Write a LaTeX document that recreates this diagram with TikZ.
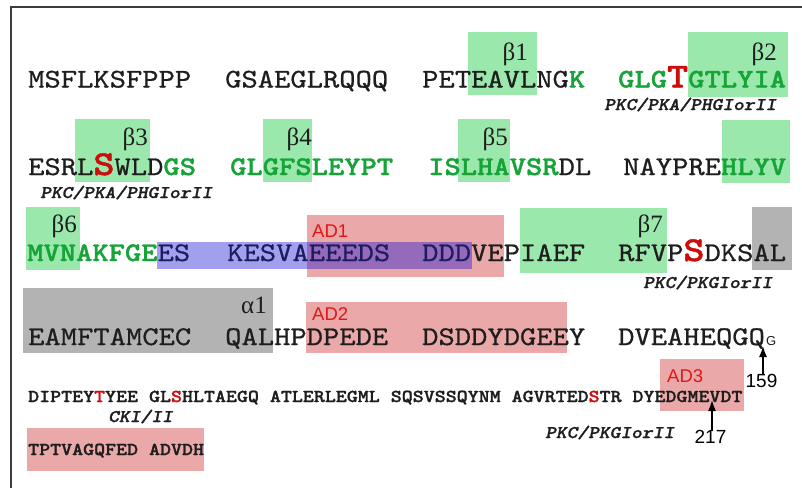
\documentclass[tikz,border=0pt]{standalone}
\usepackage{fontspec}
\usetikzlibrary{arrows.meta}
\newfontfamily\hv{Liberation Sans}
\newfontfamily\tms{Liberation Serif}
\newfontfamily\seqf[FakeBold=0.7, BoldFont=lmmonolt10-bold.otf, BoldFeatures={FakeBold=1.2}]{lmmono10-regular.otf}
\newfontfamily\kinf[FakeBold=1.2]{lmmonolt10-boldoblique.otf}
\definecolor{boxgreen}{RGB}{155,232,172}
\definecolor{boxred}{RGB}{234,168,168}
\definecolor{boxgray}{RGB}{179,179,179}
\definecolor{boxpurple}{RGB}{162,160,238}
\definecolor{boxmix}{RGB}{150,106,186}
\definecolor{seqgreen}{RGB}{22,163,56}
\definecolor{seqred}{RGB}{205,12,12}
\definecolor{adred}{RGB}{222,24,24}
\definecolor{navy}{RGB}{28,28,95}
\definecolor{txt}{RGB}{30,30,30}
\definecolor{framecol}{RGB}{60,60,60}
\newcommand\xs[1]{\scalebox{1.15}[1]{#1}}
\newcommand\G[1]{{\color{seqgreen}\bfseries #1}}
\newcommand\N[1]{{\color{navy}#1}}
\newcommand\BR[1]{{\color{seqred}\bfseries\fontsize{35}{35}\selectfont #1}}
\newcommand\SR[1]{{\color{seqred}\bfseries #1}}
\begin{document}
\begin{tikzpicture}[x=1pt,y=-1pt,
  seq/.style={anchor=base west, inner sep=0, font=\seqf\fontsize{27}{27}\selectfont, text=txt},
  small/.style={anchor=base west, inner sep=0, font=\seqf\bfseries\fontsize{18.2}{18.2}\selectfont, text=txt},
  kin/.style={anchor=base west, inner sep=0, font=\kinf\fontsize{17.8}{17.8}\selectfont, text=txt},
  greek/.style={anchor=base east, inner sep=0, font=\tms\fontsize{25}{25}\selectfont, text=txt},
  adlab/.style={anchor=base west, inner sep=0, font=\hv\fontsize{18.5}{18.5}\selectfont, text=adred},
  numlab/.style={anchor=base, inner sep=0, font=\hv\fontsize{19}{19}\selectfont, text=black},
  gbox/.style={fill=boxgreen},
  rbox/.style={fill=boxred},
  graybox/.style={fill=boxgray},
  pbox/.style={fill=boxpurple},
  mixbox/.style={fill=boxmix},
  arr/.style={line width=1.5pt, -{Latex[length=11pt,width=8pt]}},
]
\useasboundingbox (0,0) rectangle (802,488);
\fill[white] (0,0) rectangle (802,488);
\draw[framecol, line width=1.5pt] (11,488) -- (11,7) -- (802,7);

% boxes
\path[gbox] (468,32) rectangle (537,95);
\path[gbox] (688,32) rectangle (788,97);
\path[gbox] (75,119) rectangle (150,182);
\path[gbox] (263,119) rectangle (312,182);
\path[gbox] (458,119) rectangle (510,182);
\path[gbox] (722,120) rectangle (790,183);
\path[gbox] (26,207) rectangle (80,270);
\path[gbox] (520,208) rectangle (667,273);
\path[graybox] (752,207) rectangle (792,270);
\path[graybox] (23,288) rectangle (273,353);
\path[rbox] (307,215) rectangle (504,277);
\path[rbox] (306,302) rectangle (567,353);
\path[rbox] (660,359) rectangle (744,411);
\path[rbox] (27,428) rectangle (204,471);
\path[pbox] (157,242) rectangle (472,269);
\path[mixbox] (307,242) rectangle (472,269);

% greek labels
\node[greek] (b1) at (528,60) {β1};
\node[greek] (b2) at (777,60) {β2};
\node[greek] (b3) at (148,145) {β3};
\node[greek] (b4) at (312,145) {β4};
\node[greek] (b5) at (508,145) {β5};
\node[greek] (b6) at (77,232) {β6};
\node[greek] (b7) at (663,232) {β7};
\node[greek] (a1) at (267,313) {α1};

% AD labels
\node[adlab] (ad1) at (312,237) {AD1};
\node[adlab] (ad2) at (312,320) {AD2};
\node[adlab] (ad3) at (667,382) {AD3};

% row 1
\node[seq] (w1a) at (28,87.5) {\xs{MSFLKSFPPP}};
\node[seq] (w1b) at (225,87.5) {\xs{GSAEGLRQQQ}};
\node[seq] (w1c) at (422,87.5) {\xs{PETEAVLNG\G{K}}};
\node[seq] (w1d) at (618,87.5) {\xs{\G{GLG}\BR{T}\G{GTLYIA}}};
\node[kin] (k1) at (604,110) {\xs{PKC/PKA/PHGIorII}};

% row 2
\node[seq] (w2a) at (28,175) {\xs{ESRL\BR{S}WLD\G{GS}}};
\node[seq] (w2b) at (230,175) {\xs{\G{GLGFSLEYPT}}};
\node[seq] (w2c) at (428,175) {\xs{\G{ISLHAVSR}DL}};
\node[seq] (w2d) at (623,175) {\xs{NAYPRE\G{HLYV}}};
\node[kin] (k2) at (40,198) {\xs{PKC/PKA/PHGIorII}};

% row 3
\node[seq] (w3a) at (27,261) {\xs{\G{MVNAKFGE}\N{ES}}};
\node[seq] (w3b) at (227,261) {\xs{\N{KESVAEEEDS}}};
\node[seq] (w3c) at (422,261) {\xs{\N{DDD}VEPIAEF}};
\node[seq] (w3d) at (618,261) {\xs{RFVP\BR{S}DKSAL}};
\node[kin] (k3) at (643,288) {\xs{PKC/PKGIorII}};

% row 4
\node[seq] (w4a) at (28,345) {\xs{EAMFTAMCEC}};
\node[seq] (w4b) at (225,345) {\xs{QALHPDPEDE}};
\node[seq] (w4c) at (422,345) {\xs{DSDDYDGEEY}};
\node[seq] (w4d) at (618,345) {\xs{DVEAHEQGQ}};
\node[anchor=base west, inner sep=0, font=\hv\fontsize{13}{13}\selectfont, text=txt] (sg) at (766,345) {G};

% row 5
\node[small] (w5) at (28,402) {\xs{DIPTEY\SR{T}YEE GL\SR{S}HLTAEGQ ATLERLEGML SQSVSSQYNM AGVRTED\SR{S}TR DYEDGMEVDT}};
\node[kin] (k5a) at (108,422) {\xs{CKI/II}};
\node[kin] (k5b) at (545,438) {\xs{PKC/PKGIorII}};

% row 6
\node[small] (w6) at (28,455) {\xs{TPTVAGQFED ADVDH}};

% position markers
\node[numlab] (n159) at (761.5,387) {159};
\node[numlab] (n217) at (710.5,443) {217};
\coordinate (t159) at (763,346);
\coordinate (t217) at (712,400);
\draw[arr] ([yshift=-1pt]n159.north -| t159) -- (t159);
\draw[arr] ([yshift=-1pt]n217.north -| t217) -- (t217);
\end{tikzpicture}
\end{document}
